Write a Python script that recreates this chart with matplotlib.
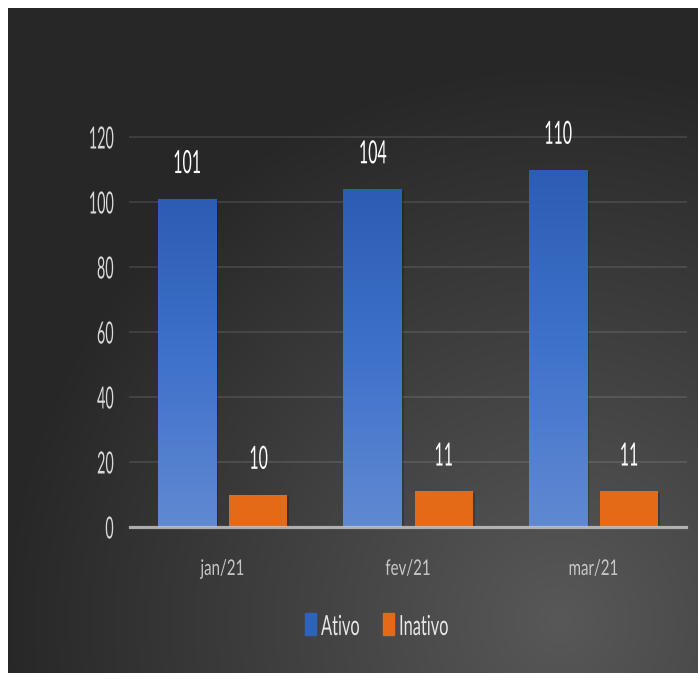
import numpy as np
import matplotlib
matplotlib.use('Agg')
import matplotlib.pyplot as plt
from matplotlib.patheffects import AbstractPathEffect, SimplePatchShadow, Normal
from matplotlib.transforms import Affine2D
from matplotlib.colors import LinearSegmentedColormap
from matplotlib.patches import Rectangle

# data
months = ['jan/21', 'fev/21', 'mar/21']
ativo = [101, 104, 110]
inativo = [10, 11, 11]
series_names = ['Ativo', 'Inativo']
yticks = [0, 20, 40, 60, 80, 100, 120]

BLUE = '#2F62B9'
ORANGE = '#E36A16'

plt.rcParams['font.family'] = ['Lato', 'DejaVu Sans']


class Squeeze(AbstractPathEffect):
    # the original text is condensed, so narrow the glyphs around an anchor
    def __init__(self, sx=0.6, anchor='center'):
        super().__init__()
        self.sx = sx
        self.anchor = anchor

    def draw_path(self, renderer, gc, tpath, affine, rgbFace=None):
        ext = tpath.get_extents()
        if self.anchor == 'right':
            x0 = ext.x1
        elif self.anchor == 'left':
            x0 = ext.x0
        else:
            x0 = (ext.x0 + ext.x1) / 2
        t = Affine2D().translate(-x0, 0).scale(self.sx, 1).translate(x0, 0) + affine
        renderer.draw_path(gc, tpath, t, rgbFace)


W, H = 698, 673
fig = plt.figure(figsize=(W / 100, H / 100), dpi=100, facecolor='white')

# dark background, lighter towards bottom right
bg = fig.add_axes([8 / W, 0, 1 - 8 / W, 1 - 8 / H])
bg.set_axis_off()
yy, xx = np.mgrid[8:H, 8:W]
d = np.hypot(xx - 560, yy - 620)
v = (88 - 49 * np.clip(d / 560, 0, 1)) / 255
bg.imshow(np.dstack([v, v, v]), aspect='auto', interpolation='bilinear')

ax = fig.add_axes([130 / W, 1 - 527 / H, 556 / W, (527 - 137) / H])
ax.set_facecolor('none')

x = np.arange(len(months))
width = 0.313
off = 0.192
shadow = [SimplePatchShadow(offset=(1.5, -1.5), shadow_rgbFace='black', alpha=0.2), Normal()]
b1 = ax.bar(x - off, ativo, width, color=BLUE, zorder=2, path_effects=shadow)
b2 = ax.bar(x + off, inativo, width, color=ORANGE, zorder=2, path_effects=shadow)

# vertical gradient on the blue bars
cmap = LinearSegmentedColormap.from_list('ativo', ['#6189D2', '#3F72CB', '#2C5DB4'])
grad = np.linspace(0, 1, 256).reshape(-1, 1)
for bar in b1:
    x0, y0 = bar.get_x(), bar.get_y()
    im = ax.imshow(grad, cmap=cmap, origin='lower', aspect='auto', zorder=2.1,
                   extent=[x0, x0 + bar.get_width(), y0, y0 + bar.get_height()])
    im.set_clip_path(bar)

for bars, vals in ((b1, ativo), (b2, inativo)):
    for bar, val in zip(bars, vals):
        ax.annotate(str(val), (bar.get_x() + bar.get_width() / 2, val),
                    xytext=(0, 18.5), textcoords='offset points',
                    ha='center', va='baseline', fontsize=23, color='white',
                    path_effects=[Squeeze(0.5)])

ax.set_xlim(-0.5, 2.5)
ax.set_ylim(0, 120)
ax.set_yticks(yticks)
ax.set_xticks(x, months)
ax.tick_params(axis='y', length=0, pad=11.5, labelsize=22, labelcolor='#d9d9d9')
ax.tick_params(axis='x', length=0, pad=23, labelsize=15.5, labelcolor='#c8c8c8')
for lbl in ax.get_yticklabels():
    lbl.set_path_effects([Squeeze(0.47, 'right')])
for lbl in ax.get_xticklabels():
    lbl.set_path_effects([Squeeze(0.7)])

ax.grid(axis='y', color='white', alpha=0.1, lw=1.5)
ax.set_axisbelow(True)
for gl in ax.get_ygridlines():
    gl.set_clip_on(False)
for s in ax.spines.values():
    s.set_visible(False)
ax.axhline(0, color='#c8c8c8', alpha=0.8, lw=2.3, zorder=3, clip_on=False)

# legend
patch_x = [305, 383]
text_x = [321, 398]
for name, col, px, tx in zip(series_names, [BLUE, ORANGE], patch_x, text_x):
    fig.add_artist(Rectangle((px / W, 1 - 635 / H), 11 / W, 22 / H,
                             transform=fig.transFigure, color=col))
    fig.text(tx / W, 1 - 635 / H, name, fontsize=20, color='#e8e8e8',
             ha='left', va='baseline', path_effects=[Squeeze(0.59, 'left')])

fig.savefig('out.png', dpi=100, facecolor=fig.get_facecolor())
